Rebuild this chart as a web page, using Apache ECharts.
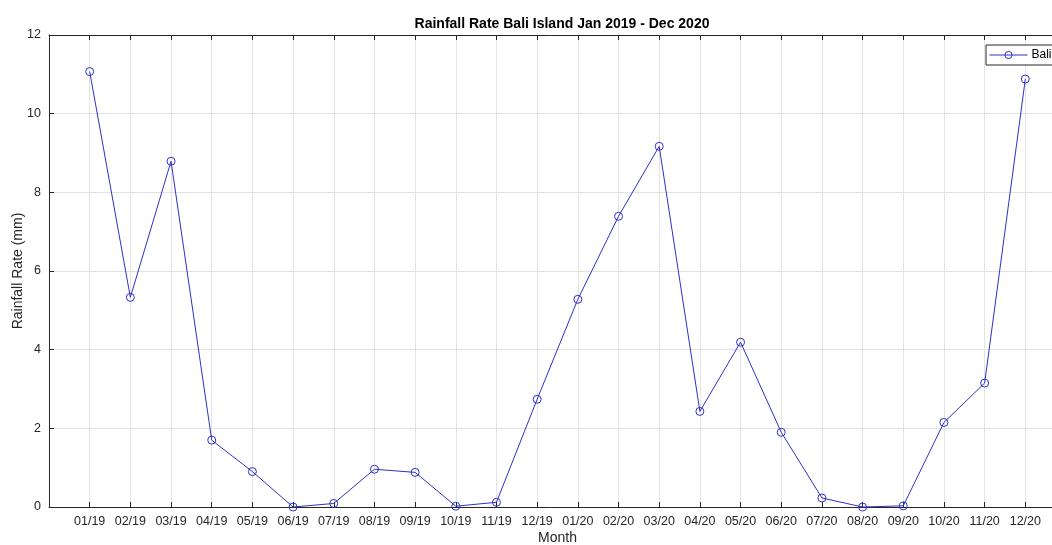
<!DOCTYPE html>
<html>
<head>
<meta charset="utf-8">
<script src="https://cdn.jsdelivr.net/npm/echarts@6/dist/echarts.min.js"></script>
<style>
  html, body { margin: 0; padding: 0; background: #fff; }
  #chart { width: 1052px; height: 545px; }
</style>
</head>
<body>
<div id="chart"></div>
<script>
// Monthly rainfall rate over Bali, Jan 2019 - Dec 2020
const months = ['01/19','02/19','03/19','04/19','05/19','06/19','07/19','08/19','09/19','10/19','11/19','12/19',
                '01/20','02/20','03/20','04/20','05/20','06/20','07/20','08/20','09/20','10/20','11/20','12/20'];
const rainfall = [11.07, 5.33, 8.79, 1.70, 0.90, 0.00, 0.09, 0.96, 0.88, 0.02, 0.12, 2.74,
                  5.28, 7.39, 9.17, 2.43, 4.19, 1.90, 0.23, 0.00, 0.03, 2.15, 3.15, 10.88];
const yTicks = [0, 2, 4, 6, 8, 10, 12];

const axisColor = '#262626';
const lineColor = '#3030c8';
const font = 'Liberation Sans, Arial, Helvetica, sans-serif';

// month i sits at x = i + 1 on a 0..(n+1) axis
const points = rainfall.map((v, i) => [i + 1, v]);
const xMax = months.length + 1;
const monthTicks = months.map((m, i) => i + 1);

const xBase = {
  type: 'value', min: 0, max: xMax, interval: 1,
  axisLine: { show: true, onZero: false, lineStyle: { color: axisColor, width: 1 } },
  axisTick: { show: true, inside: true, length: 5, lineStyle: { color: axisColor }, customValues: monthTicks },
  splitLine: { show: false }
};

const chart = echarts.init(document.getElementById('chart'), null, { renderer: 'canvas' });
chart.setOption({
  animation: false,
  backgroundColor: '#ffffff',
  title: {
    text: 'Rainfall Rate Bali Island Jan 2019 - Dec 2020',
    left: 557, top: 12, textAlign: 'center',
    textStyle: { fontFamily: font, fontSize: 14, fontWeight: 'bold', color: '#000' }
  },
  legend: {
    left: 986, top: 45,
    data: ['Bali'],
    itemWidth: 38, itemHeight: 9, itemGap: 4,
    padding: [4, 40, 4, 3],
    borderColor: axisColor, borderWidth: 1, borderRadius: 0,
    backgroundColor: '#ffffff',
    itemStyle: { color: 'rgba(255,255,255,0)', borderColor: lineColor, borderWidth: 1 },
    lineStyle: { width: 1 },
    textStyle: { fontFamily: font, fontSize: 12, color: '#000', padding: [0, 0, 0, -1] }
  },
  grid: { left: 49, top: 35, width: 1017, height: 472, containLabel: false, outerBoundsMode: 'none' },
  xAxis: [
    Object.assign({}, xBase, {
      position: 'bottom',
      name: 'Month', nameLocation: 'middle', nameGap: 24, nameMoveOverlap: false,
      nameTextStyle: { fontFamily: font, fontSize: 14, color: axisColor },
      axisLabel: {
        fontFamily: font, fontSize: 12.5, color: axisColor, margin: 8,
        showMinLabel: true, showMaxLabel: true,
        formatter: v => (v >= 1 && v <= months.length) ? months[v - 1] : ''
      },
      splitLine: { show: true, lineStyle: { color: '#e3e3e3', width: 1 } }
    }),
    Object.assign({}, xBase, {
      position: 'top',
      axisLabel: { show: false }
    })
  ],
  yAxis: {
    type: 'value', min: 0, max: 12, interval: 2,
    name: 'Rainfall Rate (mm)', nameLocation: 'middle', nameGap: 24, nameRotate: 90,
    nameMoveOverlap: false,
    nameTextStyle: { fontFamily: font, fontSize: 14, color: axisColor },
    axisLine: { show: true, lineStyle: { color: axisColor, width: 1 } },
    axisTick: { show: true, inside: true, length: 5, lineStyle: { color: axisColor } },
    axisLabel: {
      fontFamily: font, fontSize: 12.5, color: axisColor, margin: 8,
      formatter: v => yTicks.includes(v) ? String(v) : ''
    },
    splitLine: { show: true, lineStyle: { color: '#e3e3e3', width: 1 } }
  },
  series: [{
    name: 'Bali',
    type: 'line',
    xAxisIndex: 0,
    data: points,
    symbol: 'circle',
    symbolSize: 8,
    showAllSymbol: true,
    clip: false,
    lineStyle: { color: lineColor, width: 1 },
    itemStyle: { color: 'rgba(255,255,255,0)', borderColor: lineColor, borderWidth: 1 }
  }]
});
</script>
</body>
</html>
